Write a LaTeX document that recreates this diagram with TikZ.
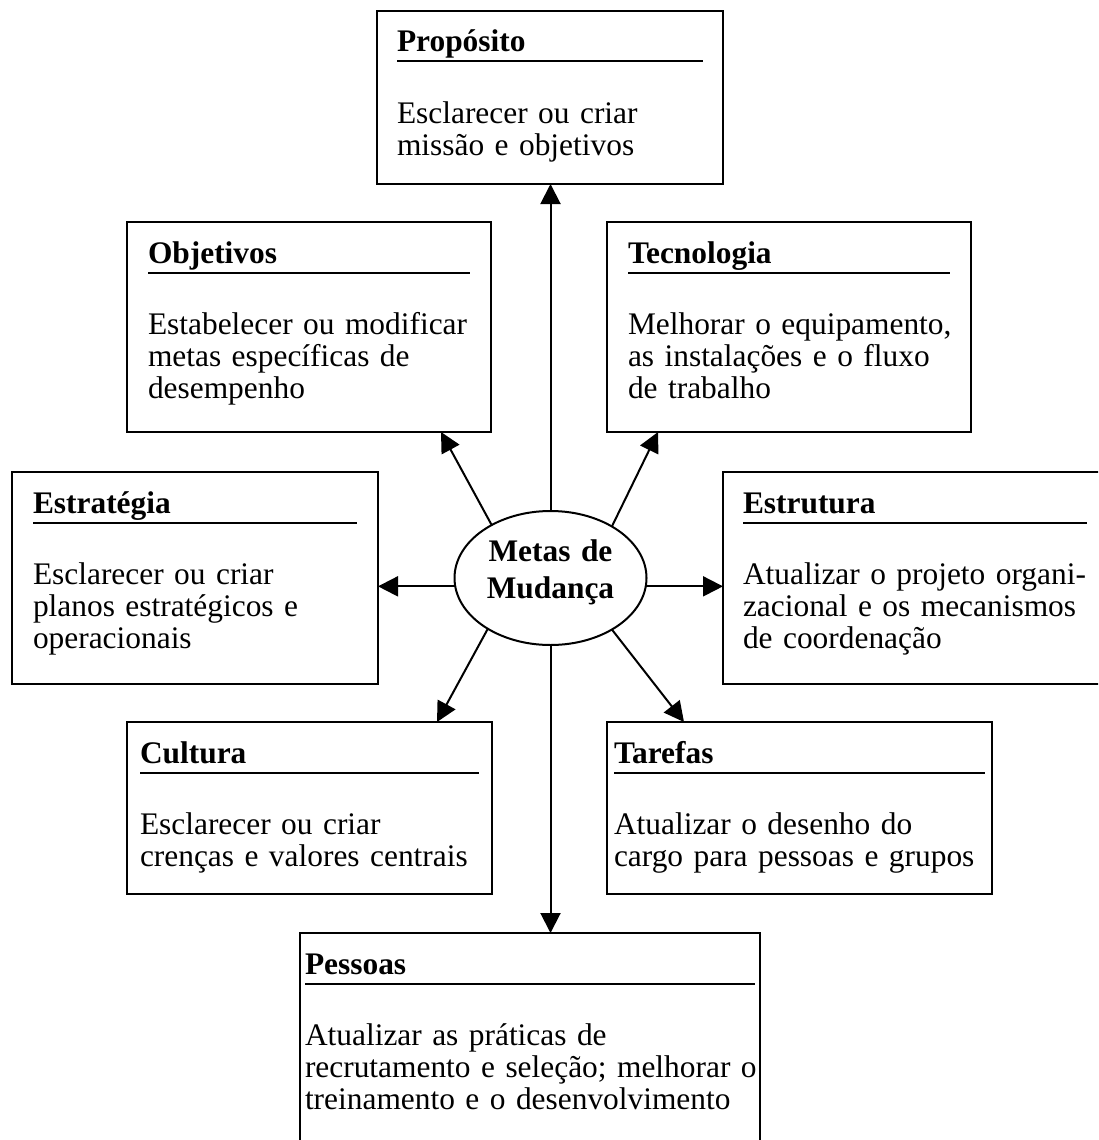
\documentclass[tikz,border=0pt]{standalone}
\usepackage{fontspec}
\setmainfont{Liberation Serif}
\usetikzlibrary{arrows.meta,shapes.geometric}

\tikzset{
  goalframe/.style={draw, rectangle, line width=2pt, inner sep=0pt, outer sep=0pt},
  headtext/.style={font=\fontsize{31.4pt}{32pt}\selectfont\bfseries, inner sep=0pt, outer sep=0pt, anchor=base west},
  bodytext/.style={font=\fontsize{31.4pt}{32pt}\selectfont, inner sep=0pt, outer sep=0pt, anchor=base west, text width=700pt, align=left},
  headrule/.style={line width=2pt},
  link/.style={line width=2pt, -{Triangle[length=20pt,width=20pt]}},
  hub/.style={draw, ellipse, line width=2pt, minimum width=192pt, minimum height=134pt, inner sep=0pt, outer sep=0pt},
  hubtext/.style={font=\fontsize{31.4pt}{37pt}\selectfont\bfseries, text width=200pt, align=center, anchor=base, inner sep=0pt},
}

% #1 name, #2 left, #3 top, #4 right, #5 bottom, #6 inner margin, #7 heading, #8 description
\newcommand\changebox[8]{%
  \node[goalframe, anchor=north west, minimum width={#4-#2}, minimum height={#5-#3}] (#1) at (#2,#3) {};
  \node[headtext] (#1-head) at ([shift={(#6,41)}]#1.north west) {#7};
  \draw[headrule] ([shift={(#6,50.5)}]#1.north west) -- ([shift={(-#6,50.5)}]#1.north east);
  \node[bodytext] (#1-body) at ([shift={(#6,112)}]#1.north west) {#8};
}

\begin{document}
\begin{tikzpicture}[x=1pt, y=-1pt]
  \useasboundingbox (0,0) rectangle (1098,1140);
  \fill[white] (0,0) rectangle (1098,1140);
  \clip (0,0) rectangle (1098,1140);

  \changebox{prop}{377}{11}{723}{184}{20}{Propósito}{Esclarecer ou criar\\missão e objetivos}
  \changebox{obj}{127}{222}{491}{432}{21}{Objetivos}{Estabelecer ou modificar\\metas específicas de\\desempenho}
  \changebox{tec}{607}{222}{971}{432}{21}{Tecnologia}{Melhorar o equipamento,\\as instalações e o fluxo\\de trabalho}
  \changebox{estr}{12}{472}{378}{684}{21}{Estratégia}{Esclarecer ou criar\\planos estratégicos e\\operacionais}
  \changebox{estu}{723}{472}{1107}{684}{20}{Estrutura}{Atualizar o projeto organi-\\zacional e os mecanismos\\de coordenação}
  \changebox{cult}{127}{722}{492}{894}{13}{Cultura}{Esclarecer ou criar\\crenças e valores centrais}
  \changebox{tar}{607}{722}{992}{894}{7}{Tarefas}{Atualizar o desenho do\\cargo para pessoas e grupos}
  \changebox{pess}{300}{933}{760}{1150}{5}{Pessoas}{Atualizar as práticas de\\recrutamento e seleção; melhorar o\\treinamento e o desenvolvimento}

  % central goal
  \node[hub] (goal) at (550.5,578) {};
  \node[hubtext] (goal-text) at (550.5,561) {Metas de\\Mudança};

  % arrows radiating from the goal
  \draw[link] (goal.north) -- (goal.north |- prop.south);
  \draw[link] (goal.south) -- (goal.south |- pess.north);
  \draw[link] (goal.185.4) -- (goal.185.4 -| estr.east);
  \draw[link] (goal.-5.4) -- (goal.-5.4 -| estu.west);
  \draw[link] (goal.138.9) -- ([xshift=132pt]obj.south);
  \draw[link] (goal.40.6) -- ([xshift=-131pt]tec.south);
  \draw[link] (goal.219.5) -- ([xshift=127.5pt]cult.north);
  \draw[link] (goal.320.2) -- ([xshift=-115.5pt]tar.north);
\end{tikzpicture}
\end{document}
